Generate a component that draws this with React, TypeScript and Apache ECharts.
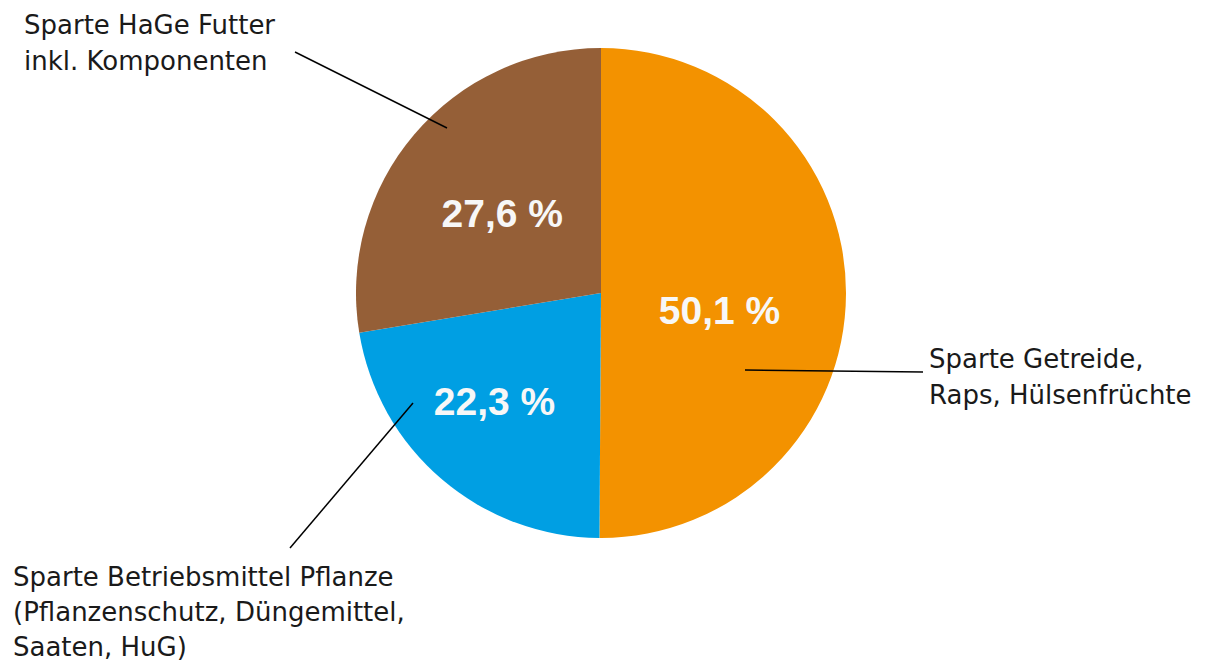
import React, { useEffect, useRef } from "react";
import * as echarts from "echarts";

const categories = [
  "Sparte Getreide,\nRaps, Hülsenfrüchte",
  "Sparte Betriebsmittel Pflanze\n(Pflanzenschutz, Düngemittel,\nSaaten, HuG)",
  "Sparte HaGe Futter\ninkl. Komponenten",
];
const values = [50.1, 22.3, 27.6];
const colors = ["#F39200", "#009FE3", "#955F37"];
const labelShift = [
  [-7, 17],
  [-25, 13],
  [-3, 2],
];

export default function App() {
  const ref = useRef<HTMLDivElement>(null);
  useEffect(() => {
    if (!ref.current) return;
    const chart = echarts.init(ref.current, undefined, { renderer: "svg" });
    const textStyleBase = {
      fontFamily: "DejaVu Sans",
      fontSize: 26,
      lineHeight: 36,
      fill: "#1a1a1a",
    };
    const lineStyle = { stroke: "#000", lineWidth: 1.5 };
    chart.setOption({
      animation: false,
      backgroundColor: "#ffffff",
      series: [
        {
          type: "pie",
          center: [601, 293],
          radius: [0, 245],
          startAngle: 90,
          clockwise: true,
          silent: true,
          label: {
            show: true,
            position: "inside",
            color: "#f7f7f7",
            fontFamily: "Liberation Sans",
            fontWeight: "bold",
            fontSize: 39,
            formatter: (p: any) => p.value.toFixed(1).replace(".", ",") + " %",
          },
          labelLine: { show: false },
          labelLayout: (p: any) => ({
            dx: labelShift[p.dataIndex][0],
            dy: labelShift[p.dataIndex][1],
          }),
          itemStyle: { borderWidth: 0 },
          data: values.map((v, i) => ({
            value: v,
            name: categories[i],
            itemStyle: { color: colors[i] },
          })),
        },
      ],
      graphic: [
        { type: "line", z: 100, shape: { x1: 745, y1: 370, x2: 923, y2: 372 }, style: lineStyle },
        { type: "line", z: 100, shape: { x1: 290, y1: 548, x2: 413, y2: 403 }, style: lineStyle },
        { type: "line", z: 100, shape: { x1: 295, y1: 52, x2: 447, y2: 128 }, style: lineStyle },
        { type: "text", z: 100, x: 929, y: 341, style: { ...textStyleBase, text: categories[0] } },
        { type: "text", z: 100, x: 13, y: 559, style: { ...textStyleBase, lineHeight: 35, text: categories[1] } },
        { type: "text", z: 100, x: 24, y: 7, style: { ...textStyleBase, text: categories[2] } },
      ],
    });
    return () => chart.dispose();
  }, []);
  return (
    <div
      ref={ref}
      style={{ position: "fixed", left: 0, top: 0, width: 1207, height: 660 }}
    />
  );
}
